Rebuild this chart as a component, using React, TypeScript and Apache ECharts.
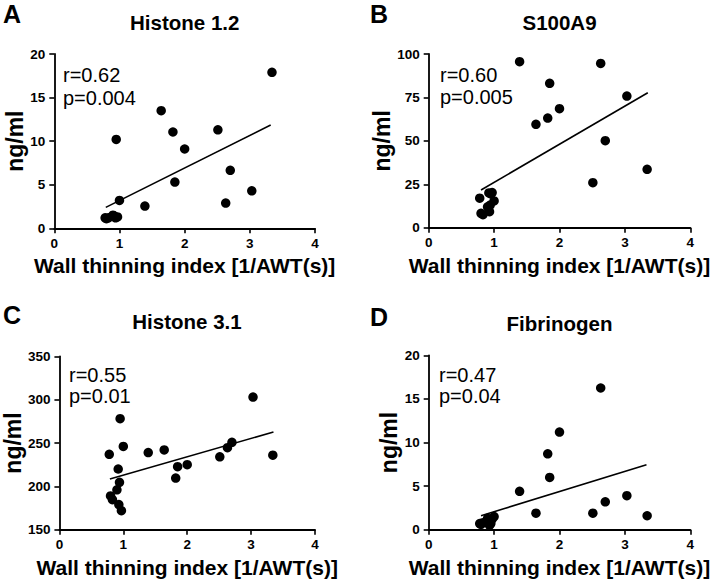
import React, { useEffect, useRef } from "react";
import * as echarts from "echarts";

// Shared x values (wall thinning index) for the 20 patients
const wallIndex = [0.78, 0.8, 0.83, 0.9, 0.92, 0.93, 0.94, 0.95, 0.97, 1.0, 1.39, 1.64, 1.82, 1.85, 2.0, 2.51, 2.63, 2.7, 3.03, 3.34];

const histone12 = [1.2, 1.1, 1.2, 1.5, 1.4, 1.3, 1.2, 10.2, 1.3, 3.2, 2.55, 13.5, 11.05, 5.3, 9.1, 11.3, 2.9, 6.65, 4.3, 17.9];
const s100a9 = [17, 8.3, 7.5, 12, 20, 9.2, 13, 19.5, 20.2, 15.4, 95.6, 59.5, 63.1, 83.1, 68.5, 25.9, 94.6, 50.1, 75.8, 33.6];
const histone31 = [237, 189, 184.6, 196, 220, 179, 204.6, 278, 172, 246, 239, 242, 209.6, 222.7, 225, 234, 244.6, 250.8, 303, 236];
const fibrinogen = [0.7, 0.6, 0.8, 1.3, 1.0, 0.5, 0.8, 0.7, 1.2, 1.5, 4.4, 1.9, 8.7, 6.0, 11.2, 1.9, 16.25, 3.2, 3.9, 1.6];

// Regression line endpoints [x, y]
const fitA = [[0.79, 2.4], [3.32, 11.85]];
const fitB = [[0.8, 21.7], [3.35, 77.7]];
const fitC = [[0.79, 208.5], [3.35, 262.7]];
const fitD = [[0.8, 1.6], [3.33, 7.46]];

const panelLetters = ["A", "B", "C", "D"];
const panelTitles = ["Histone 1.2", "S100A9", "Histone 3.1", "Fibrinogen"];
const rTexts = ["r=0.62", "r=0.60", "r=0.55", "r=0.47"];
const pTexts = ["p=0.004", "p=0.005", "p=0.01", "p=0.04"];
const yMins = [0, 0, 150, 0];
const yMaxs = [20, 100, 350, 20];
const yIntervals = [5, 25, 50, 5];
const xMin = 0;
const xMax = 4;
const xInterval = 1;
const xName = "Wall thinning index [1/AWT(s)]";
const yName = "ng/ml";

const FONT = "'Liberation Sans', Arial, Helvetica, sans-serif";

export default function App() {
  const ref = useRef<HTMLDivElement>(null);

  useEffect(() => {
    document.body.style.margin = "0";
    if (!ref.current) return;
    const chart = echarts.init(ref.current, undefined, { renderer: "svg" });

    const grids = [
      { left: 54.3, top: 54, width: 260.7, height: 174.3 },
      { left: 428.7, top: 54, width: 261.6, height: 173.7 },
      { left: 59.3, top: 356.3, width: 255.7, height: 173.4 },
      { left: 428.7, top: 355.3, width: 261.6, height: 174.4 },
    ];
    const yNameGaps = [27, 27, 34, 27];
    const allY = [histone12, s100a9, histone31, fibrinogen];
    const fits = [fitA, fitB, fitC, fitD];

    const axisLine = { show: true, lineStyle: { color: "#000", width: 1.8 } };
    const axisTick = { show: true, inside: false, length: 5, lineStyle: { color: "#000", width: 1.6 } };
    const axisLabelStyle = { color: "#000", fontWeight: "bold" as const, fontSize: 13.5, fontFamily: FONT };

    const xAxis = grids.map((_, i) => ({
      type: "value",
      gridIndex: i,
      min: xMin,
      max: xMax,
      interval: xInterval,
      axisLine,
      axisTick,
      splitLine: { show: false },
      axisLabel: { ...axisLabelStyle, margin: 8 },
      name: xName,
      nameLocation: "middle",
      nameGap: 27,
      nameTextStyle: { color: "#000", fontWeight: "bold", fontSize: 21, fontFamily: FONT },
    }));

    const yAxis = grids.map((_, i) => ({
      type: "value",
      gridIndex: i,
      min: yMins[i],
      max: yMaxs[i],
      interval: yIntervals[i],
      axisLine,
      axisTick,
      splitLine: { show: false },
      axisLabel: { ...axisLabelStyle, margin: 9 },
      name: yName,
      nameLocation: "middle",
      nameGap: yNameGaps[i],
      nameTextStyle: { color: "#000", fontWeight: "bold", fontSize: 23, fontFamily: FONT },
    }));

    const series: any[] = [];
    grids.forEach((_, i) => {
      series.push({
        type: "scatter",
        xAxisIndex: i,
        yAxisIndex: i,
        symbolSize: 9.5,
        itemStyle: { color: "#000", opacity: 1 },
        data: wallIndex.map((x, k) => [x, allY[i][k]]),
        z: 3,
      });
      series.push({
        type: "line",
        xAxisIndex: i,
        yAxisIndex: i,
        symbol: "none",
        lineStyle: { color: "#000", width: 1.6 },
        data: fits[i],
        z: 2,
      });
    });

    const letterPos = [[3, 14], [370, 14], [3, 315], [370, 317]];
    const titlePos = [[184.7, 22], [559.5, 22], [187, 321], [559.5, 323]];
    const rPos = [[63, 75], [440, 75], [69, 375], [439, 375]];
    const pPos = [[63, 98], [440, 97], [69, 396], [439, 396]];

    const graphic: any[] = [];
    for (let i = 0; i < 4; i++) {
      graphic.push({
        type: "text",
        x: letterPos[i][0],
        y: letterPos[i][1],
        style: { text: panelLetters[i], fontSize: 25, fontWeight: "bold", fontFamily: FONT, fill: "#000", align: "left", verticalAlign: "middle" },
      });
      graphic.push({
        type: "text",
        x: titlePos[i][0],
        y: titlePos[i][1],
        style: { text: panelTitles[i], fontSize: 20.5, fontWeight: "bold", fontFamily: FONT, fill: "#000", align: "center", verticalAlign: "middle" },
      });
      graphic.push({
        type: "text",
        x: rPos[i][0],
        y: rPos[i][1],
        style: { text: rTexts[i], fontSize: 20, fontFamily: FONT, fill: "#000", align: "left", verticalAlign: "middle" },
      });
      graphic.push({
        type: "text",
        x: pPos[i][0],
        y: pPos[i][1],
        style: { text: pTexts[i], fontSize: 20, fontFamily: FONT, fill: "#000", align: "left", verticalAlign: "middle" },
      });
    }

    chart.setOption({
      animation: false,
      backgroundColor: "#fff",
      grid: grids,
      xAxis,
      yAxis,
      series,
      graphic,
    });

    return () => chart.dispose();
  }, []);

  return <div ref={ref} style={{ width: 714, height: 587 }} />;
}
